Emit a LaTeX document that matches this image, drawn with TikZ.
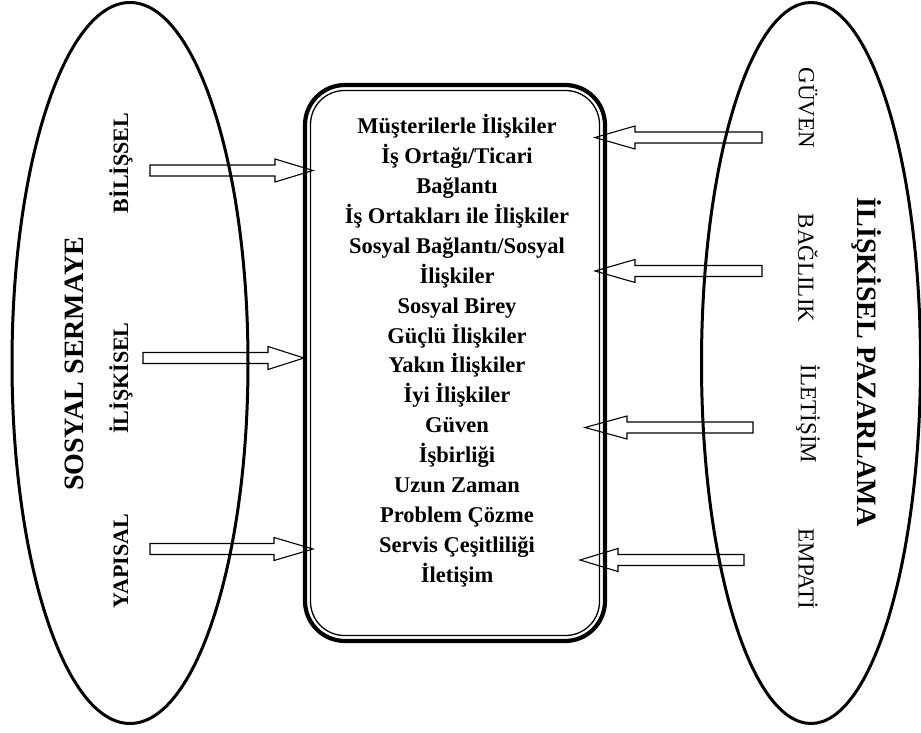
\documentclass[tikz,border=0pt]{standalone}
\usepackage{fontspec}
\setmainfont{Liberation Serif}
\usetikzlibrary{shapes.geometric}
\tikzset{
  barrow/.style={draw=black, line width=1.1pt, fill=white, line join=miter},
  oval/.style={draw=black, line width=3pt, ellipse, inner sep=0pt},
  outerbox/.style={draw=black, line width=4.2pt, rectangle, rounded corners=40pt, inner sep=0pt, minimum width=300pt, minimum height=556pt},
  innerbox/.style={draw=black, line width=1.3pt, rectangle, rounded corners=34pt, inner sep=0pt, minimum width=289pt, minimum height=545pt},
  item/.style={anchor=base, inner sep=0pt, font=\fontsize{22.5}{24}\selectfont\bfseries},
  biglabel/.style={inner sep=0pt, font=\fontsize{28}{30}\selectfont\bfseries},
  leftlabel/.style={inner sep=0pt, rotate=90, font=\fontsize{22}{24}\selectfont\bfseries},
  rightlabel/.style={inner sep=0pt, rotate=-90, font=\fontsize{23}{25}\selectfont},
}
\newcommand\barr[5]{%
  \coordinate (#1s) at (#2,#5);
  \coordinate (#1t) at (#4,#5);
  \draw[barrow] (#2,#5-5.5) -- (#3,#5-5.5) -- (#3,#5-11.5) -- (#1t) -- (#3,#5+11.5) -- (#3,#5+5.5) -- (#2,#5+5.5) -- cycle;}
\begin{document}
\begin{tikzpicture}[x=1pt,y=-1pt]
\useasboundingbox (0,0) rectangle (921,733);
\fill[white] (0,0) rectangle (921,733);
% block arrows
\barr{la1}{150}{275}{313}{170.5}
\barr{la2}{143}{268}{304}{358}
\barr{la3}{150}{274}{313}{549}
\barr{ra1}{762}{635}{595}{137.5}
\barr{ra2}{762}{635}{595}{271}
\barr{ra3}{753}{627}{585}{427.5}
\barr{ra4}{744}{618}{580}{560}
% ovals
\node[oval, minimum width=236pt, minimum height=721pt] (L) at (130,363) {};
\node[oval, minimum width=219pt, minimum height=721pt] (R) at (811,363) {};
% central box
\node[outerbox] (box) at (455,363) {};
\node[innerbox] (ibox) at (455,363) {};
% central items
\foreach \t [count=\i] in {Müşterilerle İlişkiler, İş Ortağı/Ticari, Bağlantı, İş Ortakları ile İlişkiler, Sosyal Bağlantı/Sosyal, İlişkiler, Sosyal Birey, Güçlü İlişkiler, Yakın İlişkiler, İyi İlişkiler, Güven, İşbirliği, Uzun Zaman, Problem Çözme, Servis Çeşitliliği, İletişim}
  \node[item] (c\i) at (457,{134+(\i-1)*29.87}) {\t};
% left labels
\node[biglabel, rotate=90] (ss) at (74,364) {SOSYAL SERMAYE};
\node[leftlabel] (bil) at (121,163) {BİLİŞSEL};
\node[leftlabel] (ili) at (121,378) {İLİŞKİSEL};
\node[leftlabel] (yap) at (121,561) {YAPISAL};
% right labels
\node[biglabel, rotate=-90] (ip) at (867,362) {İLİŞKİSEL PAZARLAMA};
\node[rightlabel] (guv) at (808,108) {GÜVEN};
\node[rightlabel] (bag) at (808,268) {BAĞLILIK};
\node[rightlabel] (ilet) at (808,414) {İLETİŞİM};
\node[rightlabel] (emp) at (808,569) {EMPATİ};
\end{tikzpicture}
\end{document}
